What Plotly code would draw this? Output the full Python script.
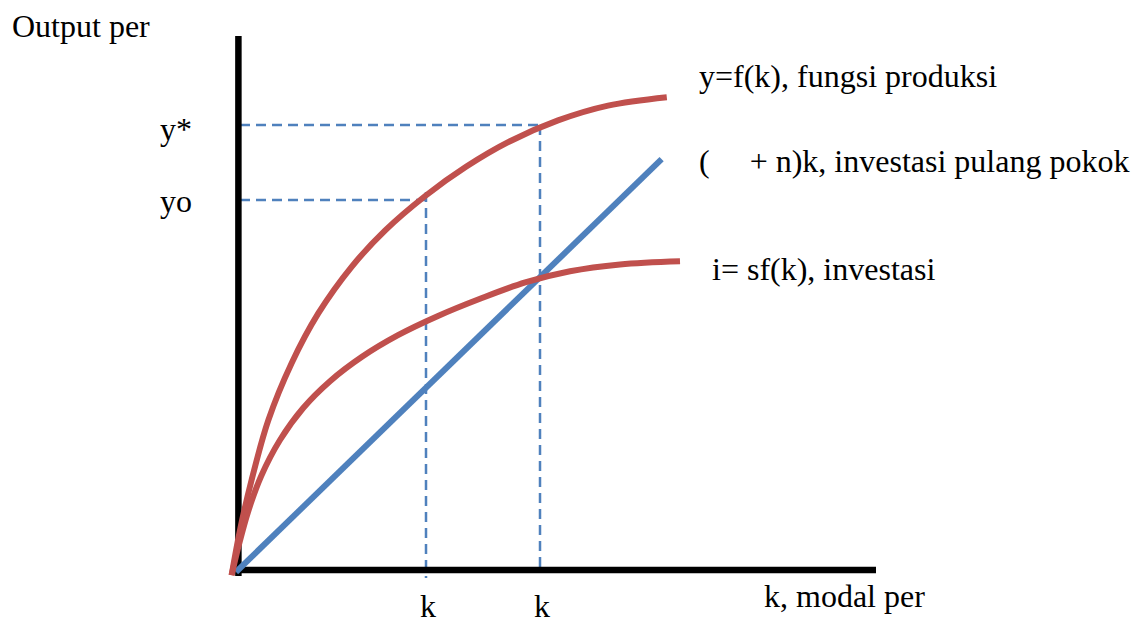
import plotly.graph_objects as go

# Units: 1 unit = 40 px; diagram origin where the two axes meet
# Production function y = f(k)
f_k = [-0.11, 0.10, 0.39, 0.81, 1.39, 2.06, 2.89, 3.73, 4.73, 5.75, 6.85, 8.05, 9.30, 10.77]
f_y = [-0.08, 1.05, 2.30, 3.80, 5.22, 6.47, 7.63, 8.54, 9.40, 10.13, 10.77, 11.29, 11.66, 11.87]

# Investment i = s f(k)
sf_k = [-0.11, 0.06, 0.30, 0.63, 1.10, 1.68, 2.35, 3.15, 4.05, 5.05, 6.10, 7.23, 8.35, 9.60, 11.10]
sf_y = [-0.08, 0.63, 1.50, 2.40, 3.30, 4.10, 4.77, 5.38, 5.92, 6.40, 6.83, 7.24, 7.52, 7.69, 7.77]

# Break-even investment (delta + n) k
be_k = [0.0, 10.64]
be_y = [0.0, 10.32]

# Reference levels
k0, k_star = 4.75, 7.6
y0, y_star = 9.3, 11.175

# Axes extents
axis_x_end = 16.0
axis_y_top = 13.4

red = "#c0504d"
blue = "#4f81bd"
font_family = "Liberation Serif, Times New Roman, serif"

fig = go.Figure()

# Dashed guide lines
dash = "10px,6px"
guides = [
    ([0.1, k_star], [y_star, y_star]),
    ([k_star, k_star], [y_star, 0.0]),
    ([0.1, k0], [y0, y0]),
    ([k0, k0], [9.5, -0.15]),
]
for gx, gy in guides:
    fig.add_trace(go.Scatter(x=gx, y=gy, mode="lines",
                             line=dict(color=blue, width=2.5, dash=dash), hoverinfo="skip"))

# Axes (thick black)
fig.add_trace(go.Scatter(x=[0.06, 0.06], y=[-0.1, axis_y_top], mode="lines",
                         line=dict(color="black", width=6.5), hoverinfo="skip"))
fig.add_trace(go.Scatter(x=[0.0, axis_x_end], y=[0.05, 0.05], mode="lines",
                         line=dict(color="black", width=6.5), hoverinfo="skip"))

# Curves
fig.add_trace(go.Scatter(x=be_k, y=be_y, mode="lines",
                         line=dict(color=blue, width=6), hoverinfo="skip"))
fig.add_trace(go.Scatter(x=f_k, y=f_y, mode="lines", line_shape="spline",
                         line=dict(color=red, width=6, smoothing=1.0, simplify=False),
                         hoverinfo="skip"))
fig.add_trace(go.Scatter(x=sf_k, y=sf_y, mode="lines", line_shape="spline",
                         line=dict(color=red, width=6, smoothing=1.0, simplify=False),
                         hoverinfo="skip"))

fnt = dict(family=font_family, size=32, color="black")
labels = [
    ("Output per", -5.65, 13.65, "left"),
    ("y*", -1.95, 11.075, "left"),
    ("yo", -1.95, 9.275, "left"),
    ("y=f(k), fungsi produksi", 11.525, 12.4, "left"),
    ("(\u00a0\u00a0\u00a0\u00a0 + n)k, investasi pulang pokok", 11.525, 10.275, "left"),
    ("i= sf(k), investasi", 11.85, 7.575, "left"),
    ("k", k0 + 0.05, -0.86, "center"),
    ("k", k_star + 0.05, -0.86, "center"),
    ("k, modal per", 13.15, -0.6, "left"),
]
annotations = [dict(text=t, x=x, y=y, xref="x", yref="y", xanchor=xa, yanchor="middle",
                    showarrow=False, font=fnt) for t, x, y, xa in labels]

# Ranges compensate for the 8px page margin around the figure
fig.update_layout(
    width=1145, height=621,
    margin=dict(l=0, r=0, t=0, b=0),
    paper_bgcolor="white", plot_bgcolor="white",
    showlegend=False,
    xaxis=dict(range=[-5.7, 22.925], visible=False, fixedrange=True),
    yaxis=dict(range=[-1.425, 14.1], visible=False, fixedrange=True),
    annotations=annotations,
)

fig.write_html("out.html")
